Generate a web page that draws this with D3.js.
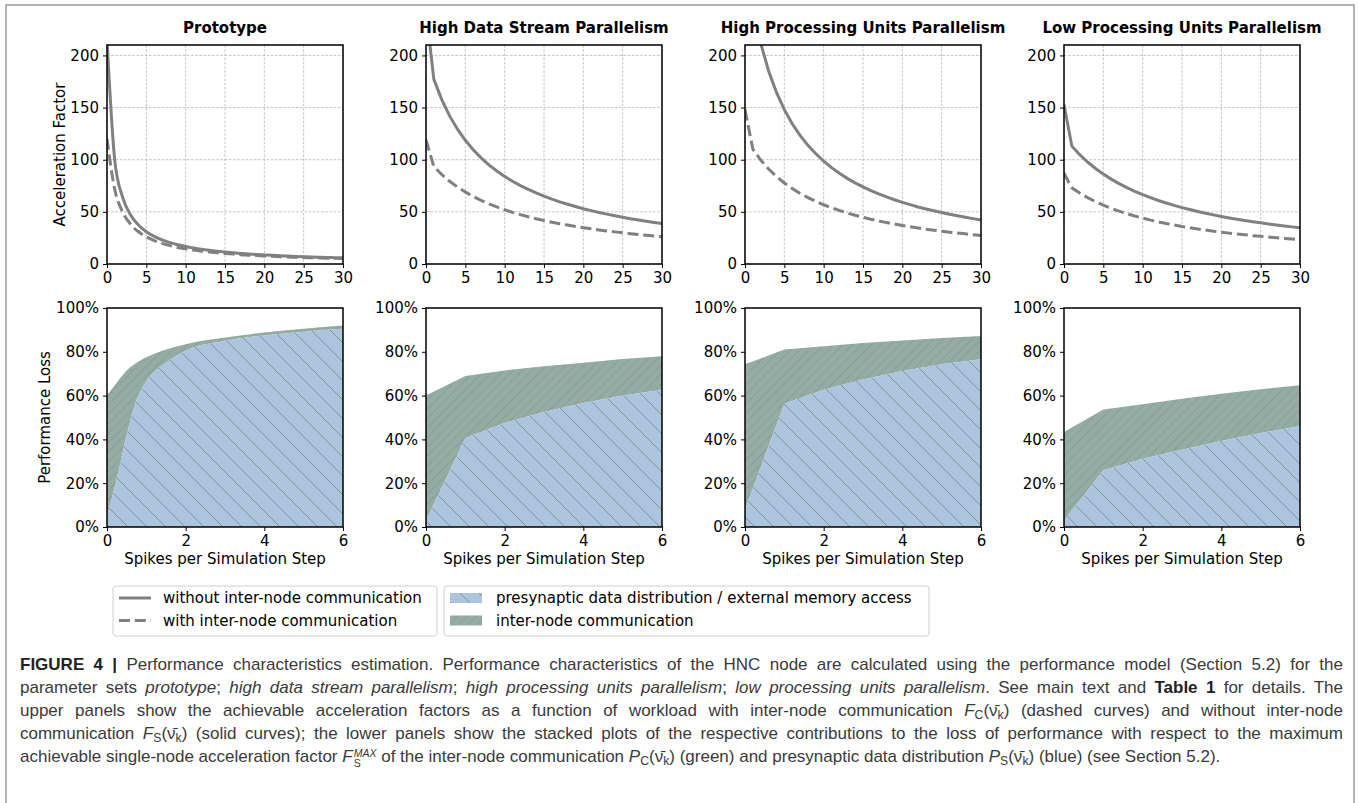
<!DOCTYPE html>
<html><head><meta charset="utf-8">
<script src="https://cdn.jsdelivr.net/npm/d3@7"></script>
<style>
body{margin:0;background:#fff;}
#wrap{position:relative;width:1358px;height:803px;overflow:hidden;background:#fff}
svg{position:absolute;left:0;top:0}
#cap{position:absolute;left:20px;top:653px;width:1323px;font-family:"Liberation Sans Narrow","Liberation Sans",Arial,sans-serif;font-size:17px;color:#3a3a3a}
.ln{height:23px;line-height:23px;text-align:justify;text-align-last:justify;overflow:visible}
.ln.last{text-align-last:left}
.ln b{color:#222}
.ln sub{font-size:0.72em;line-height:0;vertical-align:-0.25em}
.ss{display:inline-block;vertical-align:-0.45em;line-height:0.95;font-size:0.62em;text-align:left;margin-left:1px}
.ss span{display:block}
</style></head>
<body><div id="wrap">
<svg id="chart" width="1358" height="803"></svg>
<div id="cap">
<div class="ln"><b>FIGURE 4 |</b> Performance characteristics estimation. Performance characteristics of the HNC node are calculated using the performance model (Section 5.2) for the</div>
<div class="ln">parameter sets <i>prototype</i>; <i>high data stream parallelism</i>; <i>high processing units parallelism</i>; <i>low processing units parallelism</i>. See main text and <b>Table 1</b> for details. The</div>
<div class="ln">upper panels show the achievable acceleration factors as a function of workload with inter-node communication <i>F</i><sub>C</sub>(ν̄<sub>k</sub>) (dashed curves) and without inter-node</div>
<div class="ln">communication <i>F</i><sub>S</sub>(ν̄<sub>k</sub>) (solid curves); the lower panels show the stacked plots of the respective contributions to the loss of performance with respect to the maximum</div>
<div class="ln last">achievable single-node acceleration factor <i>F</i><span class="ss"><span><i>MAX</i></span><span>S</span></span> of the inter-node communication <i>P</i><sub>C</sub>(ν̄<sub>k</sub>) (green) and presynaptic data distribution <i>P</i><sub>S</sub>(ν̄<sub>k</sub>) (blue) (see Section 5.2).</div>
</div>
</div>
<script>
// ---------------- data ----------------
const titles = ["Prototype", "High Data Stream Parallelism", "High Processing Units Parallelism", "Low Processing Units Parallelism"];

const xTop = [0,1,2,3,4,5,6,7,8,9,10,11,12,13,14,15,16,17,18,19,20,21,22,23,24,25,26,27,28,29,30];
const xTickTop = [0,5,10,15,20,25,30];
const yTickTop = [0,50,100,150,200];

// Acceleration factor without inter-node communication (solid)
const solidProto = [215,98.4,63.7,47.1,37.4,31.0,26.5,23.1,20.5,18.4,16.7,15.3,14.1,13.1,12.2,11.4,10.7,10.1,9.6,9.1,8.7,8.3,7.9,7.6,7.3,7.0,6.7,6.5,6.3,6.1,5.9];
const solidHDSP  = [243,177.0,157.6,142.0,129.3,118.6,109.6,101.8,95.1,89.2,84.0,79.4,75.2,71.5,68.1,65.0,62.2,59.6,57.3,55.1,53.0,51.2,49.4,47.8,46.2,44.8,43.4,42.2,41.0,39.8,38.8];
const solidHPUP  = [296.6,247.0,211.6,185.1,164.5,148.0,134.5,123.3,113.8,105.7,98.6,92.4,87.0,82.1,77.8,73.9,70.4,67.2,64.3,61.6,59.1,56.9,54.7,52.8,51.0,49.3,47.7,46.2,44.8,43.5,42.2];
const solidLPUP  = [153,113.0,104.8,97.8,91.6,86.2,81.4,77.1,73.2,69.7,66.5,63.6,60.9,58.5,56.2,54.1,52.2,50.4,48.7,47.1,45.6,44.2,42.9,41.7,40.6,39.5,38.4,37.4,36.5,35.6,34.7];
// Acceleration factor with inter-node communication (dashed)
const dashProto = [120,71.0,49.7,38.1,30.9,26.0,22.5,19.8,17.6,15.9,14.5,13.3,12.3,11.5,10.7,10.1,9.5,8.9,8.5,8.1,7.7,7.4,7.0,6.7,6.5,6.2,6.0,5.8,5.6,5.4,5.2];
const dashHDSP  = [119,93.4,85.8,79.3,73.8,69.0,64.7,61.0,57.7,54.7,52.0,49.5,47.3,45.3,43.4,41.7,40.1,38.6,37.3,36.0,34.8,33.7,32.7,31.7,30.8,29.9,29.1,28.3,27.5,26.8,26.2];
const dashHPUP  = [148,110.1,99.7,91.1,83.9,77.7,72.4,67.7,63.7,60.0,56.8,53.9,51.3,48.9,46.7,44.8,42.9,41.3,39.7,38.3,36.9,35.7,34.5,33.4,32.4,31.4,30.5,29.7,28.9,28.1,27.4];
const dashLPUP  = [87,73.0,68.0,63.7,59.8,56.5,53.4,50.7,48.3,46.0,44.0,42.1,40.4,38.8,37.4,36.0,34.8,33.6,32.5,31.5,30.5,29.6,28.8,28.0,27.2,26.5,25.8,25.1,24.5,23.9,23.4];

// Performance loss (%), x = spikes per simulation step
const xBotProto = [0,0.25,0.5,0.75,1,1.5,2,3,4,5,6];
const xBot = [0,1,2,3,4,5,6];
const xTickBot = [0,2,4,6];
const yTickBot = [0,20,40,60,80,100];
const blueProto  = [5,22,42,58,66.5,75,80.5,85,87.5,89.2,90.5];
const totalProto = [60,66,71.5,75,77.5,81,83.5,86.5,88.8,90.5,92];
const blueHDSP  = [3,40.6,47.5,52.5,56.6,60,62.7];
const totalHDSP = [60,69,71.5,73.4,75,76.7,78];
const blueHPUP  = [8,56.3,62.7,67.4,71.2,74.3,76.6];
const totalHPUP = [74.3,81,82.5,84,85.2,86.3,87.2];
const blueLPUP  = [3,25.9,31.2,35.3,39.3,42.9,46.1];
const totalLPUP = [43.4,53.6,56,58.6,60.9,62.9,64.7];

const legendLines = ["without inter-node communication", "with inter-node communication"];
const legendAreas = ["presynaptic data distribution / external memory access", "inter-node communication"];

const solids = [solidProto, solidHDSP, solidHPUP, solidLPUP];
const dashes = [dashProto, dashHDSP, dashHPUP, dashLPUP];
const botX = [xBotProto, xBot, xBot, xBot];
const blues = [blueProto, blueHDSP, blueHPUP, blueLPUP];
const totals = [totalProto, totalHDSP, totalHPUP, totalLPUP];

// ---------------- layout ----------------
const svg = d3.select("#chart");
const FONT = "DejaVu Sans, sans-serif";
const panelLeft = [107, 426, 745, 1064];
const PW = 236;
const topY = 45, botY = 308, PH = 219;
const lineColor = "#808080";
const blueFill = "#adc4de", greenFill = "#94aca3";
const curves = [d3.curveMonotoneX, d3.curveLinear, d3.curveLinear, d3.curveLinear];

// frame
svg.append("rect").attr("x", 6).attr("y", 5).attr("width", 1348).attr("height", 820)
  .attr("fill", "none").attr("stroke", "#9a9a9a").attr("stroke-width", 1.5);

const defs = svg.append("defs");
function hatch(id, size, fill, stroke, dir, sw) {
  const p = defs.append("pattern").attr("id", id).attr("patternUnits", "userSpaceOnUse")
    .attr("width", size).attr("height", size);
  p.append("rect").attr("width", size).attr("height", size).attr("fill", fill);
  const s = size;
  const d = dir === "back"
    ? `M0,0L${s},${s}M${-s/2},${s/2}L${s/2},${s*1.5}M${s/2},${-s/2}L${s*1.5},${s/2}`
    : `M0,${s}L${s},0M${-s/2},${s/2}L${s/2},${-s/2}M${s/2},${s*1.5}L${s*1.5},${s/2}`;
  p.append("path").attr("d", d).attr("stroke", stroke).attr("stroke-width", sw).attr("fill", "none");
}
hatch("hBlue", 19, blueFill, "#888a8f", "back", 0.9);
hatch("hGreen", 9.5, greenFill, "#85908d", "fwd", 0.8);

function styleAxis(g) {
  g.select(".domain").remove();
  g.selectAll(".tick line").attr("stroke", "#000").attr("stroke-width", 1);
  g.selectAll(".tick text").attr("font-family", FONT).attr("font-size", 15).attr("fill", "#000");
}

for (let i = 0; i < 4; i++) {
  const L = panelLeft[i];
  // ---------- top panel ----------
  const x = d3.scaleLinear().domain([0, 30]).range([L, L + PW]);
  const y = d3.scaleLinear().domain([0, 210]).range([topY + PH, topY]);
  const gT = svg.append("g");
  const clipId = "clipT" + i;
  defs.append("clipPath").attr("id", clipId).append("rect")
    .attr("x", L).attr("y", topY).attr("width", PW).attr("height", PH);
  // grid
  gT.append("g").selectAll("line").data(xTickTop).join("line")
    .attr("x1", d => x(d)).attr("x2", d => x(d)).attr("y1", topY).attr("y2", topY + PH)
    .attr("stroke", "#b5b5b5").attr("stroke-width", 0.8).attr("stroke-dasharray", "2.6,1.6");
  gT.append("g").selectAll("line").data(yTickTop).join("line")
    .attr("x1", L).attr("x2", L + PW).attr("y1", d => y(d)).attr("y2", d => y(d))
    .attr("stroke", "#b5b5b5").attr("stroke-width", 0.8).attr("stroke-dasharray", "2.6,1.6");
  const line = d3.line().x((d, j) => x(xTop[j])).y(d => y(d)).curve(curves[i]);
  const lg = gT.append("g").attr("clip-path", `url(#${clipId})`);
  lg.append("path").attr("d", line(dashes[i])).attr("fill", "none").attr("stroke", lineColor)
    .attr("stroke-width", 3).attr("stroke-dasharray", "11,4.8");
  lg.append("path").attr("d", line(solids[i])).attr("fill", "none").attr("stroke", lineColor)
    .attr("stroke-width", 3);
  gT.append("rect").attr("x", L).attr("y", topY).attr("width", PW).attr("height", PH)
    .attr("fill", "none").attr("stroke", "#000").attr("stroke-width", 1.5);
  gT.append("g").attr("transform", `translate(0,${topY + PH})`)
    .call(d3.axisBottom(x).tickValues(xTickTop).tickSize(4).tickPadding(4)).call(styleAxis);
  gT.append("g").attr("transform", `translate(${L},0)`)
    .call(d3.axisLeft(y).tickValues(yTickTop).tickSize(4).tickPadding(4)).call(styleAxis);
  svg.append("text").attr("x", L + PW / 2).attr("y", 33).attr("text-anchor", "middle")
    .attr("font-family", FONT).attr("font-size", 15).attr("font-weight", "bold").text(titles[i]);

  // ---------- bottom panel ----------
  const xb = d3.scaleLinear().domain([0, 6]).range([L, L + PW]);
  const yb = d3.scaleLinear().domain([0, 100]).range([botY + PH, botY]);
  const gB = svg.append("g");
  const xs = botX[i];
  const bl = blues[i], tt = totals[i];
  const areaBlue = d3.area().x((d, j) => xb(xs[j])).y0(yb(0)).y1(d => yb(d)).curve(curves[i]);
  const areaGreen = d3.area().x((d, j) => xb(xs[j])).y0((d, j) => yb(bl[j])).y1(d => yb(d)).curve(curves[i]);
  gB.append("path").attr("d", areaGreen(tt)).attr("fill", "url(#hGreen)");
  gB.append("path").attr("d", areaBlue(bl)).attr("fill", "url(#hBlue)");
  gB.append("rect").attr("x", L).attr("y", botY).attr("width", PW).attr("height", PH)
    .attr("fill", "none").attr("stroke", "#000").attr("stroke-width", 1.5);
  gB.append("g").attr("transform", `translate(0,${botY + PH})`)
    .call(d3.axisBottom(xb).tickValues(xTickBot).tickFormat(d3.format("d")).tickSize(4).tickPadding(4)).call(styleAxis);
  gB.append("g").attr("transform", `translate(${L},0)`)
    .call(d3.axisLeft(yb).tickValues(yTickBot).tickFormat(d => d + "%").tickSize(4).tickPadding(4)).call(styleAxis);
  svg.append("text").attr("x", L + PW / 2).attr("y", 564).attr("text-anchor", "middle")
    .attr("font-family", FONT).attr("font-size", 15).text("Spikes per Simulation Step");
}

// y-axis labels
svg.append("text").attr("transform", `translate(60,${topY + PH / 2}) rotate(-90)`)
  .attr("text-anchor", "middle").attr("dominant-baseline", "central")
  .attr("font-family", FONT).attr("font-size", 15).text("Acceleration Factor");
svg.append("text").attr("transform", `translate(45,${botY + PH / 2}) rotate(-90)`)
  .attr("text-anchor", "middle").attr("dominant-baseline", "central")
  .attr("font-family", FONT).attr("font-size", 15).text("Performance Loss");

// ---------------- legends ----------------
const lg1 = svg.append("g");
lg1.append("rect").attr("x", 113).attr("y", 586).attr("width", 324).attr("height", 50).attr("rx", 3)
  .attr("fill", "#fff").attr("stroke", "#d0d0d0").attr("stroke-width", 1);
legendLines.forEach((t, k) => {
  const yy = 598 + k * 22.5;
  lg1.append("line").attr("x1", 119).attr("x2", 151).attr("y1", yy).attr("y2", yy)
    .attr("stroke", lineColor).attr("stroke-width", 3)
    .attr("stroke-dasharray", k === 1 ? "11,4.8" : null);
  lg1.append("text").attr("x", 163).attr("y", yy).attr("dominant-baseline", "central")
    .attr("font-family", FONT).attr("font-size", 15).text(t);
});
const lg2 = svg.append("g");
lg2.append("rect").attr("x", 444).attr("y", 586).attr("width", 485).attr("height", 50).attr("rx", 3)
  .attr("fill", "#fff").attr("stroke", "#d0d0d0").attr("stroke-width", 1);
legendAreas.forEach((t, k) => {
  const yy = 598 + k * 22.5;
  lg2.append("rect").attr("x", 450).attr("y", yy - 5).attr("width", 32).attr("height", 10)
    .attr("fill", k === 0 ? "url(#hBlue)" : "url(#hGreen)");
  lg2.append("text").attr("x", 496).attr("y", yy).attr("dominant-baseline", "central")
    .attr("font-family", FONT).attr("font-size", 15).text(t);
});
</script>
</body></html>
